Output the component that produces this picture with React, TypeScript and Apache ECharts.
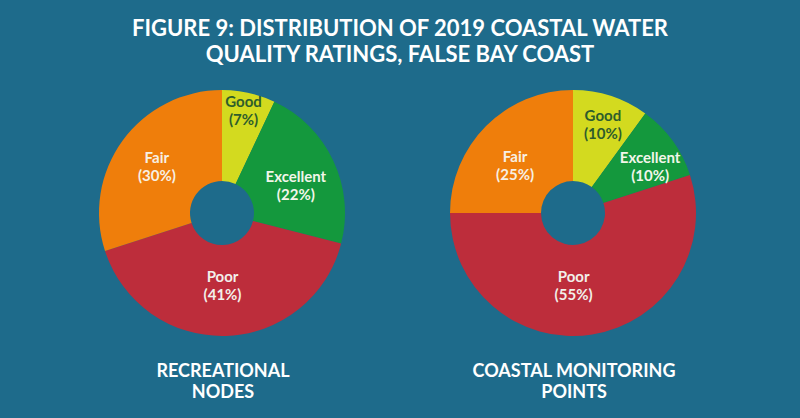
import React, { useEffect, useRef } from "react";
import * as echarts from "echarts";

const categories = ["Good", "Excellent", "Poor", "Fair"];
const recreationalNodes = [7, 22, 41, 30];
const coastalMonitoringPoints = [10, 10, 55, 25];
const chartTitles = ["RECREATIONAL\nNODES", "COASTAL MONITORING\nPOINTS"];
const mainTitleLines = [
  "FIGURE 9: DISTRIBUTION OF 2019 COASTAL WATER",
  "QUALITY RATINGS, FALSE BAY COAST",
];

const COLORS: Record<string, string> = {
  Good: "#d3da1f",
  Excellent: "#14983d",
  Poor: "#bd2d3b",
  Fair: "#ef7e0b",
};
const LABEL_COLORS: Record<string, string> = {
  Good: "#2e5d2c",
  Excellent: "#f2f6ea",
  Poor: "#f2f0ea",
  Fair: "#f7f0e4",
};
const BG = "#1e6b8b";
const FONT = "Lato, 'Open Sans', sans-serif";

export default function App() {
  const ref = useRef<HTMLDivElement>(null);
  useEffect(() => {
    document.body.style.margin = "0";
    const chart = echarts.init(ref.current!, undefined, { renderer: "svg" });
    const leftOffsets = [[4, -24], [1, 6], [-2, -8], [0, 0]];
    const rightOffsets = [[5, -12], [12, 0], [-12, -8], [-1, 9]];
    const mkData = (vals: number[], offs: number[][]) =>
      categories.map((c, i) => ({
        name: c,
        value: vals[i],
        itemStyle: { color: COLORS[c] },
        label: { color: LABEL_COLORS[c], offset: offs[i] },
      }));
    const mkSeries = (vals: number[], cx: number, offs: number[][]) => ({
      type: "pie",
      center: [cx, 213],
      radius: [32, 123],
      startAngle: 90,
      clockwise: true,
      avoidLabelOverlap: false,
      silent: true,
      itemStyle: { borderWidth: 0 },
      label: {
        show: true,
        position: "inside",
        formatter: (p: any) => `${p.name}\n(${p.value}%)`,
        fontFamily: FONT,
        fontSize: 15,
        fontWeight: "bold",
        lineHeight: 18,
        align: "center",
      },
      labelLine: { show: false },
      data: mkData(vals, offs),
    });
    chart.setOption({
      animation: false,
      backgroundColor: BG,
      graphic: [
        ...mainTitleLines.map((t, i) => ({
          type: "text",
          x: 400,
          y: 27 + i * 26.5,
          style: {
            text: t,
            fill: "#ffffff",
            fontFamily: FONT,
            fontSize: 22,
            fontWeight: "bold",
            align: "center",
            verticalAlign: "middle",
          },
        })),
        ...chartTitles.map((t, i) => ({
          type: "text",
          x: i === 0 ? 223 : 574,
          y: 380,
          style: {
            text: t,
            fill: "#ffffff",
            fontFamily: FONT,
            fontSize: 18,
            fontWeight: "bold",
            lineHeight: 21,
            align: "center",
            verticalAlign: "middle",
          },
        })),
      ],
      series: [
        mkSeries(recreationalNodes, 222, leftOffsets),
        mkSeries(coastalMonitoringPoints, 573, rightOffsets),
      ],
    });
    return () => chart.dispose();
  }, []);
  return (
    <div
      ref={ref}
      style={{ width: 800, height: 418, position: "absolute", left: 0, top: 0 }}
    />
  );
}
